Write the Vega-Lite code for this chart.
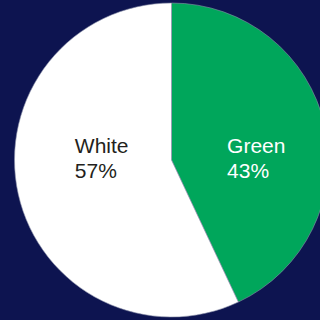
{
  "$schema": "https://vega.github.io/schema/vega-lite/v6.json",
  "width": 297,
  "height": 320,
  "autosize": "none",
  "padding": {"left": 23, "right": 0, "top": 0, "bottom": 0},
  "background": "#0d1450",
  "view": {"stroke": null},
  "data": {"values": [
    {"category": "Green", "value": 43, "order": 1},
    {"category": "White", "value": 57, "order": 2}
  ]},
  "transform": [
    {"calculate": "datum.category + '\\n' + datum.value + '%'", "as": "label"}
  ],
  "encoding": {
    "theta": {"field": "value", "type": "quantitative", "stack": true},
    "order": {"field": "order", "type": "quantitative"}
  },
  "layer": [
    {
      "mark": {"type": "arc", "outerRadius": 157, "stroke": "#8a8fa8", "strokeWidth": 0.6},
      "encoding": {
        "color": {"field": "category", "type": "nominal", "scale": {"domain": ["Green", "White"], "range": ["#00a65b", "#ffffff"]}, "legend": null}
      }
    },
    {
      "mark": {"type": "text", "radius": 60, "align": "left", "baseline": "alphabetic", "lineBreak": "\n", "lineHeight": 25, "font": "Liberation Sans", "fontSize": 21, "color": "#ffffff", "dx": -3, "dy": 6},
      "encoding": {
        "text": {"condition": {"test": "datum.category === 'Green'", "field": "label"}, "value": ""}
      }
    },
    {
      "mark": {"type": "text", "radius": 97, "align": "left", "baseline": "alphabetic", "lineBreak": "\n", "lineHeight": 25, "font": "Liberation Sans", "fontSize": 21, "color": "#231f20", "dx": -2, "dy": -28},
      "encoding": {
        "text": {"condition": {"test": "datum.category === 'White'", "field": "label"}, "value": ""}
      }
    }
  ]
}
